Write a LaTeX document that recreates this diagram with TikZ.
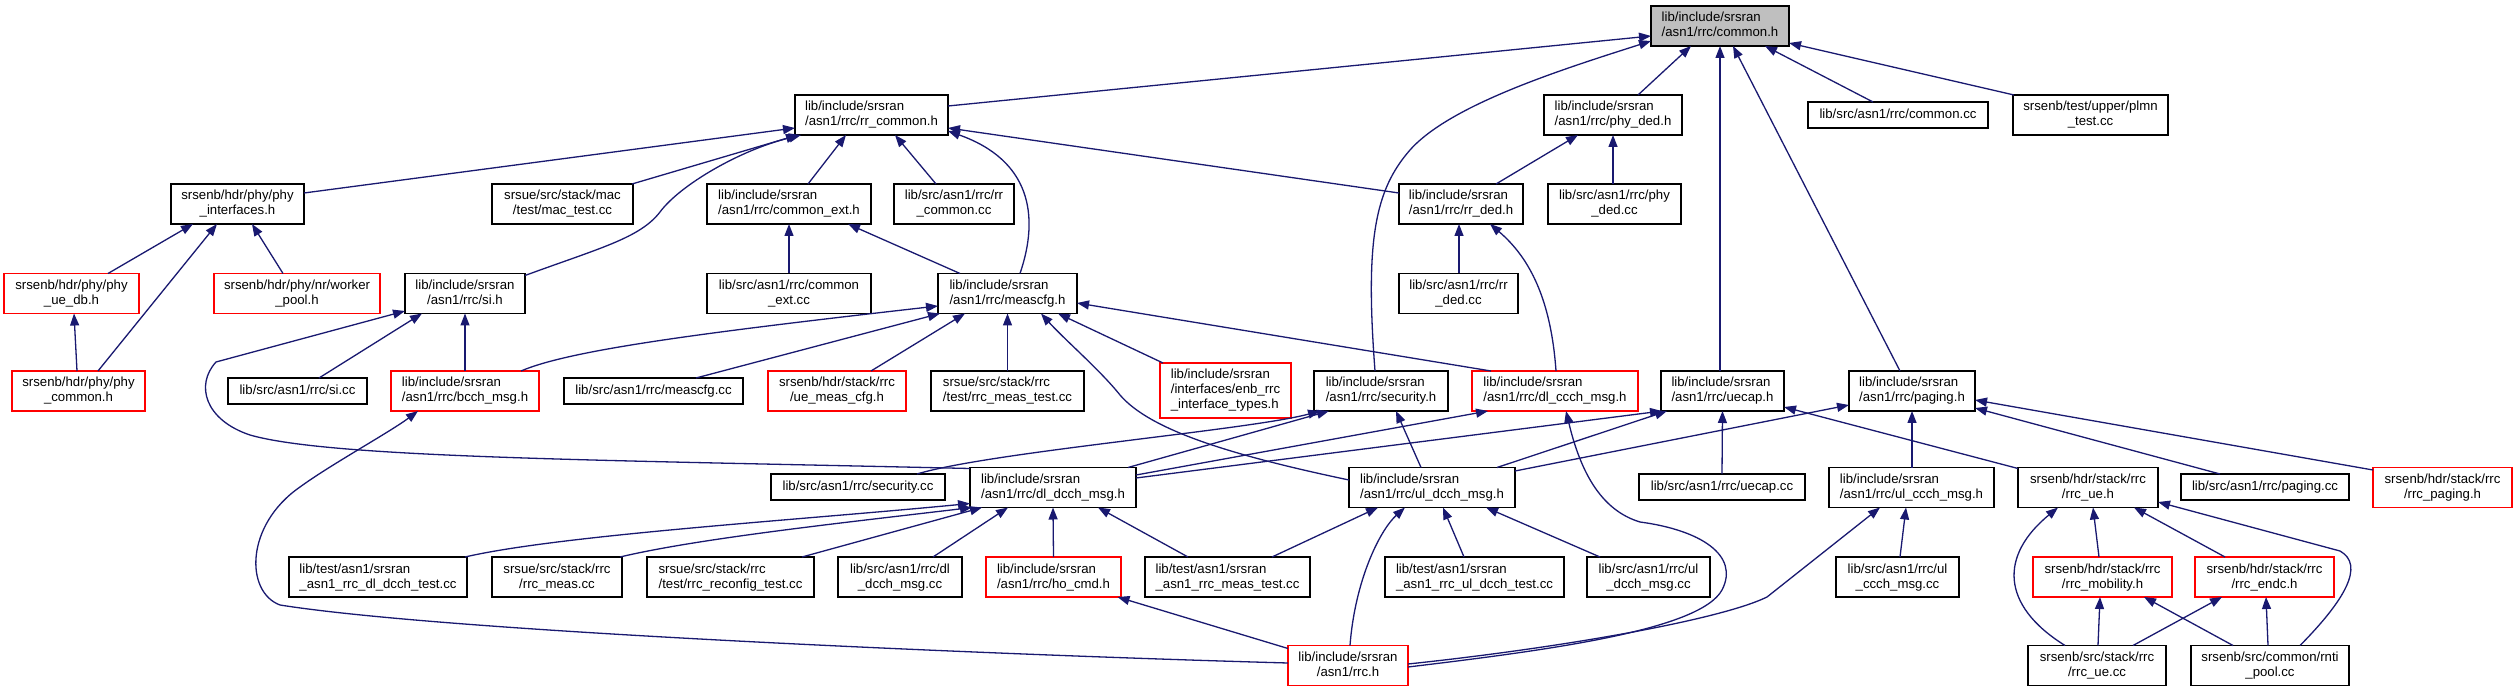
\documentclass[tikz,border=0pt]{standalone}
\usepackage{fontspec}
\setmainfont{Liberation Sans}
\usetikzlibrary{arrows.meta,calc}
\definecolor{edgec}{RGB}{25,25,112}
\definecolor{nodegray}{RGB}{191,191,191}
\definecolor{nodered}{RGB}{255,0,0}
\newcommand\sst{\vrule height 10pt depth 3pt width 0pt}
\newcommand\one[1]{\hbox{\sst#1}}
\newcommand\two[2]{%
 \setbox0=\hbox{\sst#1}\setbox2=\hbox{\sst#2}%
 \ifdim\wd0<\wd2 \setbox0=\hbox to\wd2{\sst#1\hfil}%
 \else \setbox2=\hbox to\wd0{\hfil\sst#2\hfil}\fi
 \vbox{\baselineskip=15pt\lineskip=0pt\lineskiplimit=-20pt\box0\box2}}
\newcommand\three[3]{\vbox{\baselineskip=15pt\lineskip=0pt\lineskiplimit=-20pt\hbox{\sst#1}\hbox{\sst#2}\hbox{\sst#3}}}
\newcommand\nd[7]{\node[#1,minimum width=#5pt,minimum height=#6pt] (#2) at (#3,#4) {#7};}
\begin{document}
\begin{tikzpicture}[x=1pt,y=-1pt,
  nbox/.style={rectangle,draw=black,line width=1.3pt,fill=white,inner sep=0pt,outer sep=0pt,
    font=\fontsize{13.2}{15}\selectfont},
  rnbox/.style={nbox,draw=nodered},
  gnbox/.style={nbox,fill=nodegray},
  inc/.style={draw=edgec,line width=1.3pt,-{Triangle[length=12pt,width=9pt]}}]
\fill[white] (0,0) rectangle (2517,692);
\useasboundingbox (0,0) rectangle (2517,692);
% nodes
\nd{gnbox}{common}{1720}{26}{138}{40}{\two{lib/include/srsran}{/asn1/rrc/common.h}}
\nd{nbox}{rrcommon}{871.5}{115}{153}{40}{\two{lib/include/srsran}{/asn1/rrc/rr\_common.h}}
\nd{nbox}{phyded}{1613}{115}{138}{40}{\two{lib/include/srsran}{/asn1/rrc/phy\_ded.h}}
\nd{nbox}{commoncc}{1898}{115}{180}{26}{\one{lib/src/asn1/rrc/common.cc}}
\nd{nbox}{plmn}{2090.5}{115}{155}{40}{\two{srsenb/test/upper/plmn}{\_test.cc}}
\nd{nbox}{phyif}{237.5}{204}{133}{40}{\two{srsenb/hdr/phy/phy}{\_interfaces.h}}
\nd{nbox}{mactest}{562.5}{204}{141}{40}{\two{srsue/src/stack/mac}{/test/mac\_test.cc}}
\nd{nbox}{commonext}{789}{204}{164}{40}{\two{lib/include/srsran}{/asn1/rrc/common\_ext.h}}
\nd{nbox}{rrcommoncc}{954}{204}{120}{40}{\two{lib/src/asn1/rrc/rr}{\_common.cc}}
\nd{nbox}{rrded}{1461}{204}{124}{40}{\two{lib/include/srsran}{/asn1/rrc/rr\_ded.h}}
\nd{nbox}{phydedcc}{1614.5}{204}{133}{40}{\two{lib/src/asn1/rrc/phy}{\_ded.cc}}
\nd{rnbox}{phyuedb}{71.5}{293.5}{135}{40}{\two{srsenb/hdr/phy/phy}{\_ue\_db.h}}
\nd{rnbox}{workerpool}{297}{293.5}{166}{40}{\two{srsenb/hdr/phy/nr/worker}{\_pool.h}}
\nd{nbox}{sih}{465}{293.5}{120}{40}{\two{lib/include/srsran}{/asn1/rrc/si.h}}
\nd{nbox}{commonextcc}{789}{293.5}{164}{40}{\two{lib/src/asn1/rrc/common}{\_ext.cc}}
\nd{nbox}{meascfgh}{1007.5}{293.5}{139}{40}{\two{lib/include/srsran}{/asn1/rrc/meascfg.h}}
\nd{nbox}{rrdedcc}{1458.5}{293.5}{119}{40}{\two{lib/src/asn1/rrc/rr}{\_ded.cc}}
\nd{rnbox}{phycommon}{78.5}{391}{133}{40}{\two{srsenb/hdr/phy/phy}{\_common.h}}
\nd{nbox}{sicc}{297.5}{391}{139}{26}{\one{lib/src/asn1/rrc/si.cc}}
\nd{rnbox}{bcch}{465}{391}{148}{40}{\two{lib/include/srsran}{/asn1/rrc/bcch\_msg.h}}
\nd{nbox}{meascfgcc}{653.5}{391}{179}{26}{\one{lib/src/asn1/rrc/meascfg.cc}}
\nd{rnbox}{uemeascfg}{837}{391}{138}{40}{\two{srsenb/hdr/stack/rrc}{/ue\_meas\_cfg.h}}
\nd{nbox}{srsuemeastest}{1007.5}{391}{153}{40}{\two{srsue/src/stack/rrc}{/test/rrc\_meas\_test.cc}}
\nd{rnbox}{enbrrc}{1225.5}{390.5}{131}{55}{\three{lib/include/srsran}{/interfaces/enb\_rrc}{\_interface\_types.h}}
\nd{nbox}{securityh}{1381}{391}{134}{40}{\two{lib/include/srsran}{/asn1/rrc/security.h}}
\nd{rnbox}{dlccch}{1555}{391}{166}{40}{\two{lib/include/srsran}{/asn1/rrc/dl\_ccch\_msg.h}}
\nd{nbox}{uecaph}{1722.5}{391}{123}{40}{\two{lib/include/srsran}{/asn1/rrc/uecap.h}}
\nd{nbox}{pagingh}{1912}{391}{126}{40}{\two{lib/include/srsran}{/asn1/rrc/paging.h}}
\nd{nbox}{securitycc}{858}{487}{174}{26}{\one{lib/src/asn1/rrc/security.cc}}
\nd{nbox}{dldcch}{1053}{487.5}{166}{40}{\two{lib/include/srsran}{/asn1/rrc/dl\_dcch\_msg.h}}
\nd{nbox}{uldcch}{1432}{487.5}{166}{40}{\two{lib/include/srsran}{/asn1/rrc/ul\_dcch\_msg.h}}
\nd{nbox}{uecapcc}{1722}{487}{166}{26}{\one{lib/src/asn1/rrc/uecap.cc}}
\nd{nbox}{ulccch}{1911.5}{487.5}{165}{40}{\two{lib/include/srsran}{/asn1/rrc/ul\_ccch\_msg.h}}
\nd{nbox}{rrcueh}{2088}{487.5}{140}{40}{\two{srsenb/hdr/stack/rrc}{/rrc\_ue.h}}
\nd{nbox}{pagingcc}{2265}{487}{168}{26}{\one{lib/src/asn1/rrc/paging.cc}}
\nd{rnbox}{rrcpaging}{2442.5}{487.5}{139}{40}{\two{srsenb/hdr/stack/rrc}{/rrc\_paging.h}}
\nd{nbox}{dldcchtest}{378}{577}{178}{40}{\two{lib/test/asn1/srsran}{\_asn1\_rrc\_dl\_dcch\_test.cc}}
\nd{nbox}{rrcmeascc}{557}{577}{130}{40}{\two{srsue/src/stack/rrc}{/rrc\_meas.cc}}
\nd{nbox}{reconfig}{730.5}{577}{167}{40}{\two{srsue/src/stack/rrc}{/test/rrc\_reconfig\_test.cc}}
\nd{nbox}{dldcchcc}{900}{577}{124}{40}{\two{lib/src/asn1/rrc/dl}{\_dcch\_msg.cc}}
\nd{rnbox}{hocmd}{1053.5}{577}{135}{40}{\two{lib/include/srsran}{/asn1/rrc/ho\_cmd.h}}
\nd{nbox}{libmeastest}{1227.5}{577}{165}{40}{\two{lib/test/asn1/srsran}{\_asn1\_rrc\_meas\_test.cc}}
\nd{nbox}{uldcchtest}{1474.5}{577}{179}{40}{\two{lib/test/asn1/srsran}{\_asn1\_rrc\_ul\_dcch\_test.cc}}
\nd{nbox}{uldcchcc}{1648.5}{577}{123}{40}{\two{lib/src/asn1/rrc/ul}{\_dcch\_msg.cc}}
\nd{nbox}{ulccchcc}{1897.5}{577}{123}{40}{\two{lib/src/asn1/rrc/ul}{\_ccch\_msg.cc}}
\nd{rnbox}{rrcmobility}{2102.5}{577}{139}{40}{\two{srsenb/hdr/stack/rrc}{/rrc\_mobility.h}}
\nd{rnbox}{rrcendc}{2264.5}{577}{139}{40}{\two{srsenb/hdr/stack/rrc}{/rrc\_endc.h}}
\nd{rnbox}{rrch}{1348}{665.5}{120}{40}{\two{lib/include/srsran}{/asn1/rrc.h}}
\nd{nbox}{rrcuecc}{2097}{665.5}{138}{40}{\two{srsenb/src/stack/rrc}{/rrc\_ue.cc}}
\nd{nbox}{rntipool}{2270}{665.5}{158}{40}{\two{srsenb/src/common/rnti}{\_pool.cc}}
% edges into common.h
\draw[inc] ($(rrcommon.east)+(0,-9)$) -- ($(common.west)+(0,10)$);
\draw[inc] ($(securityh.north)+(-6,0)$) .. controls (1365,240) and (1375,190) .. (1410,150) .. controls (1450,105) and (1560,70) .. ($(common.west)+(0,15)$);
\draw[inc] ($(phyded.north)+(25,0)$) -- ($(common.south)+(-29,0)$);
\draw[inc] ($(uecaph.north)+(-2.5,0)$) -- (common.south);
\draw[inc] ($(pagingh.north)+(-12,0)$) -- ($(common.south)+(13,0)$);
\draw[inc] ($(commoncc.north)+(-25,0)$) -- ($(common.south)+(45,0)$);
\draw[inc] ($(plmn.north west)+(1,0)$) -- ($(common.east)+(0,17)$);
% into rr_common.h
\draw[inc] ($(phyif.east)+(0,-11)$) -- ($(rrcommon.west)+(0,13)$);
\draw[inc] ($(mactest.north east)+(-1,0)$) -- ($(rrcommon.south west)+(3,0)$);
\draw[inc] ($(sih.north east)+(0,2)$) .. controls (600,248) and (640,238) .. (660,212) .. controls (680,185) and (740,150) .. ($(rrcommon.south west)+(6,0)$);
\draw[inc] ($(commonext.north)+(19,0)$) -- ($(rrcommon.south)+(-25.5,0)$);
\draw[inc] ($(rrcommoncc.north)+(-18,0)$) -- ($(rrcommon.south)+(23.5,0)$);
\draw[inc] ($(meascfgh.north)+(12.5,0)$) .. controls (1040,215) and (1030,160) .. ($(rrcommon.east)+(0,16)$);
\draw[inc] ($(rrded.west)+(0,-11)$) -- ($(rrcommon.east)+(0,13)$);
% into phy_ded.h
\draw[inc] ($(rrded.north)+(35,0)$) -- ($(phyded.south)+(-35,0)$);
\draw[inc] ($(phydedcc.north)+(-1.5,0)$) -- (phyded.south);
% into phy_interfaces.h / phy_ue_db.h
\draw[inc] ($(phyuedb.north)+(36.5,0)$) -- ($(phyif.south)+(-44.5,0)$);
\draw[inc] ($(phycommon.north)+(19.5,0)$) -- ($(phyif.south)+(-20.5,0)$);
\draw[inc] ($(workerpool.north)+(-14,0)$) -- ($(phyif.south)+(14.5,0)$);
\draw[inc] ($(phycommon.north)+(-1.5,0)$) -- ($(phyuedb.south)+(2.5,0)$);
% into common_ext.h, rr_ded.h
\draw[inc] (commonextcc.north) -- (commonext.south);
\draw[inc] ($(meascfgh.north)+(-47.5,0)$) -- ($(commonext.south)+(59,0)$);
\draw[inc] ($(rrdedcc.north)+(0.5,0)$) -- ($(rrded.south)+(-2,0)$);
\draw[inc] ($(dlccch.north)+(1,0)$) .. controls (1551,300) and (1530,258) .. ($(rrded.south)+(29,0)$);
% into si.h
\draw[inc] ($(dldcch.north west)+(0,1)$) .. controls (600,460) and (330,458) .. (250,435) .. controls (205,420) and (195,385) .. (216,362) -- ($(sih.west)+(0,17.5)$);
\draw[inc] ($(sicc.north)+(21.5,0)$) -- ($(sih.south)+(-43,0)$);
\draw[inc] (bcch.north) -- (sih.south);
% into meascfg.h
\draw[inc] ($(bcch.north)+(56,0)$) .. controls (570,350) and (700,333) .. ($(meascfgh.west)+(0,12.5)$);
\draw[inc] ($(meascfgcc.north)+(42.5,0)$) -- ($(meascfgh.south west)+(2,0)$);
\draw[inc] ($(uemeascfg.north)+(34,0)$) -- ($(meascfgh.south)+(-42.5,0)$);
\draw[inc] (srsuemeastest.north) -- (meascfgh.south);
\draw[inc] ($(uldcch.west)+(0,-7.5)$) .. controls (1230,455) and (1150,430) .. (1120,395) .. controls (1100,370) and (1065,340) .. ($(meascfgh.south)+(33.5,0)$);
\draw[inc] ($(enbrrc.north west)+(3,0)$) -- ($(meascfgh.south)+(50.5,0)$);
\draw[inc] ($(dlccch.north)+(-64,0)$) -- ($(meascfgh.east)+(0,9.5)$);
% into bcch_msg.h
\draw[inc] ($(rrch.west)+(0,-2.5)$) .. controls (1000,655) and (450,632) .. (280,605) .. controls (245,592) and (245,525) .. (300,487) .. controls (330,465) and (390,432) .. ($(bcch.south)+(-47,0)$);
% into security.h
\draw[inc] ($(securitycc.north)+(59,0)$) .. controls (990,452) and (1250,430) .. ($(securityh.south)+(-61,0)$);
\draw[inc] ($(dldcch.north)+(75,0)$) -- ($(securityh.south)+(-52,0)$);
\draw[inc] ($(uldcch.north)+(-11,0)$) -- ($(securityh.south)+(15,0)$);
% into dl_ccch_msg.h
\draw[inc] ($(dldcch.east)+(0,-12.5)$) -- ($(dlccch.south)+(-67,0)$);
\draw[inc] ($(rrch.east)+(0,1.5)$) .. controls (1550,650) and (1700,630) .. (1722,590) .. controls (1740,555) and (1700,530) .. (1640,522) .. controls (1600,510) and (1580,470) .. ($(dlccch.south)+(11,0)$);
% into ul_ccch_msg.h
\draw[inc] ($(rrch.east)+(0,-1.5)$) .. controls (1560,648) and (1720,620) .. (1767,597) -- ($(ulccch.south)+(-31.5,0)$);
\draw[inc] ($(ulccchcc.north)+(2.5,0)$) -- ($(ulccch.south)+(-5.5,0)$);
% into uecap.h
\draw[inc] ($(dldcch.east)+(0,-9.5)$) -- ($(uecaph.south west)+(1,0)$);
\draw[inc] ($(uldcch.north)+(65,0)$) -- ($(uecaph.south)+(-55.5,0)$);
\draw[inc] (uecapcc.north) -- (uecaph.south);
\draw[inc] ($(rrcueh.north west)+(0,1)$) -- ($(uecaph.east)+(0,16)$);
% into paging.h
\draw[inc] ($(uldcch.east)+(0,-16.5)$) -- ($(pagingh.west)+(0,14)$);
\draw[inc] ($(ulccch.north)+(0.5,0)$) -- (pagingh.south);
\draw[inc] ($(pagingcc.north)+(-45,0)$) -- ($(pagingh.east)+(0,17)$);
\draw[inc] ($(rrcpaging.west)+(0,-17.5)$) -- ($(pagingh.east)+(0,9)$);
% into ul_dcch_msg.h
\draw[inc] ($(rrch.north)+(2,0)$) .. controls (1355,580) and (1380,530) .. ($(uldcch.south)+(-27,0)$);
\draw[inc] ($(libmeastest.north)+(44.5,0)$) -- ($(uldcch.south)+(-54,0)$);
\draw[inc] ($(uldcchtest.north)+(-10.5,0)$) -- ($(uldcch.south)+(11,0)$);
\draw[inc] ($(uldcchcc.north)+(-48.5,0)$) -- ($(uldcch.south)+(54,0)$);
% into dl_dcch_msg.h
\draw[inc] ($(dldcchtest.north east)+(-2,0)$) .. controls (560,535) and (800,520) .. ($(dldcch.west)+(0,16)$);
\draw[inc] ($(rrcmeascc.north)+(63,0)$) .. controls (700,538) and (850,522) .. ($(dldcch.south west)+(2,0)$);
\draw[inc] ($(reconfig.north)+(71.5,0)$) -- ($(dldcch.south west)+(12,0)$);
\draw[inc] ($(dldcchcc.north)+(33,0)$) -- ($(dldcch.south)+(-45,0)$);
\draw[inc] (hocmd.north) -- (dldcch.south);
\draw[inc] ($(libmeastest.north)+(-39.5,0)$) -- ($(dldcch.south)+(45,0)$);
% into ho_cmd.h
\draw[inc] ($(rrch.north west)+(0,3)$) -- ($(hocmd.south)+(64,0)$);
% into rrc_ue.h
\draw[inc] ($(rrcmobility.north)+(-3.5,0)$) -- ($(rrcueh.south)+(5,0)$);
\draw[inc] ($(rrcendc.north)+(-39.5,0)$) -- ($(rrcueh.south)+(46,0)$);
\draw[inc] ($(rrcuecc.north)+(-32,0)$) .. controls (2000,605) and (2000,555) .. ($(rrcueh.south)+(-30,0)$);
\draw[inc] ($(rntipool.north)+(30,0)$) .. controls (2345,600) and (2365,565) .. (2340,551) -- ($(rrcueh.east)+(0,14.5)$);
% into rrc_mobility.h / rrc_endc.h
\draw[inc] ($(rrcuecc.north)+(1,0)$) -- ($(rrcmobility.south)+(-2.5,0)$);
\draw[inc] ($(rntipool.north)+(-37,0)$) -- ($(rrcmobility.south)+(41.5,0)$);
\draw[inc] ($(rrcuecc.north)+(36,0)$) -- ($(rrcendc.south)+(-42.5,0)$);
\draw[inc] ($(rntipool.north)+(-2,0)$) -- ($(rrcendc.south)+(1.5,0)$);
\end{tikzpicture}
\end{document}
